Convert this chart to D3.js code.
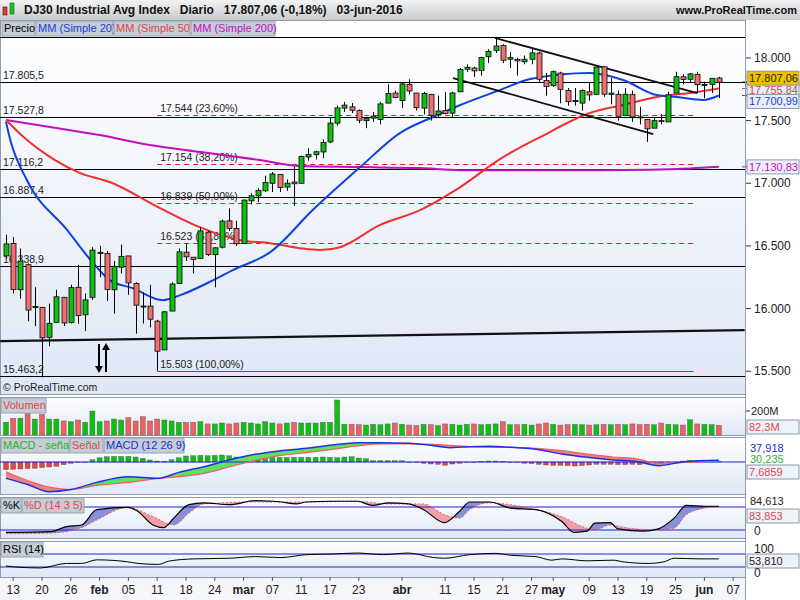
<!DOCTYPE html>
<html><head><meta charset="utf-8">
<script src="https://cdn.jsdelivr.net/npm/d3@7"></script>
<style>body{margin:0;background:#fff}svg{display:block;font-family:"Liberation Sans",Arial,sans-serif}</style>
</head><body><svg id="c" width="800" height="600"></svg>
<script>
const dates=["12","13","14","15","19","20","21","22","25","26","27","28","29","feb01","02","03","04","05","08","09","10","11","12","16","17","18","19","22","23","24","25","26","29","mar01","02","03","04","07","08","09","10","11","14","15","16","17","18","21","22","23","24","28","29","30","31","abr01","04","05","06","07","08","11","12","13","14","15","18","19","20","21","22","25","26","27","28","29","may02","03","04","05","06","09","10","11","12","13","16","17","18","19","20","23","24","25","26","27","31","jun01","02","03"];
const opens=[16420,16520,16150,16350,16010,16010,15770,15890,16090,15890,16170,15950,16090,16440,16440,16150,16330,16420,16200,16020,16020,15900,15670,15980,16200,16450,16410,16400,16610,16430,16490,16700,16640,16520,16860,16900,16940,17000,17070,16970,17010,17000,17210,17230,17250,17330,17480,17600,17610,17580,17500,17520,17510,17640,17720,17660,17790,17720,17600,17710,17550,17580,17560,17730,17910,17920,17900,18010,18060,18100,17990,17990,17970,17990,18040,17820,17780,17880,17740,17660,17640,17730,17710,17930,17710,17710,17540,17710,17530,17510,17440,17500,17490,17720,17850,17830,17870,17780,17790,17840];
const highs=[16590,16570,16480,16360,16170,16010,16040,16150,16090,16190,16350,16120,16490,16500,16460,16380,16510,16420,16210,16130,16190,15910,15980,16210,16480,16520,16410,16650,16620,16490,16710,16800,16700,16870,16920,16960,17060,17090,17070,17030,17130,17220,17280,17260,17350,17520,17620,17650,17640,17590,17520,17570,17650,17790,17740,17800,17830,17720,17730,17710,17700,17730,17730,17920,17950,17930,18010,18070,18167,18110,18050,18000,18020,18080,18050,17880,17900,17890,17760,17760,17750,17800,17930,17930,17840,17740,17760,17740,17610,17510,17520,17550,17730,17890,17870,17880,17890,17810,17840,17850];
const lows=[16400,16120,16080,15900,15860,15451,15700,15890,15860,15880,15880,15820,16070,16250,16060,15960,16280,16110,15800,15880,15850,15503,15670,15980,16200,16380,16280,16400,16420,16170,16480,16620,16500,16520,16830,16850,16930,16930,16930,16940,16820,17000,17180,17190,17200,17320,17460,17570,17560,17480,17440,17490,17470,17640,17680,17600,17710,17580,17550,17500,17530,17550,17520,17730,17890,17850,17860,17960,18040,17960,17920,17860,17950,17950,17800,17700,17770,17640,17620,17620,17580,17660,17710,17690,17630,17500,17540,17490,17470,17330,17440,17470,17490,17720,17790,17800,17720,17680,17720,17680];
const closes=[16516,16151,16379,15988,16016,15766,15882,16094,15885,16167,15944,16069,16466,16449,16153,16337,16417,16205,16027,16014,15915,15660,15974,16196,16453,16413,16392,16620,16431,16485,16698,16640,16517,16866,16900,16943,17007,17074,16965,17001,16996,17213,17230,17252,17326,17481,17602,17624,17583,17503,17516,17536,17634,17717,17685,17793,17737,17603,17716,17542,17577,17556,17721,17908,17926,17897,18004,18053,18096,17982,18003,17977,17990,18041,17830,17773,17891,17750,17651,17660,17740,17705,17928,17711,17720,17535,17711,17529,17526,17435,17500,17492,17706,17851,17828,17873,17787,17789,17838,17807];
const volumes=[106,139,140,195,133,172,133,133,117,111,125,106,200,111,117,133,125,145,117,153,117,133,125,117,106,106,106,111,92,92,100,92,100,106,100,92,111,100,92,100,106,100,100,100,106,106,292,89,89,86,83,89,86,92,100,89,83,78,89,86,78,92,89,83,89,92,86,89,92,111,86,86,89,83,92,100,89,83,86,89,86,83,86,89,86,89,86,92,86,89,86,100,89,86,83,128,92,89,86,82];
const histo=[-46,-44,-42,-40,-38,-34,-30,-26,-16,-8,-2,-2,14,26,32,34,34,34,30,22,12,6,4,14,26,36,38,40,38,40,42,38,30,30,28,30,28,28,28,28,28,28,28,28,30,28,26,30,32,24,20,8,8,8,8,8,0,-2,-8,-12,-14,-20,-12,-8,0,0,4,6,6,4,0,-2,-8,-10,-14,-18,-20,-20,-22,-24,-22,-18,-14,-14,-14,-16,-16,-14,-16,-12,-14,-10,-4,0,6,10,10,8,8,4];
const macd=[[0,-98],[3,-135],[6,-178],[9,-165],[12.6,-122],[17,-88],[21,-98],[24,-62],[27.5,-28],[31,12],[34.6,46],[38,66],[41.7,82],[45.3,102],[48.8,116],[52,116],[56,112],[59.4,98],[61.6,86],[64.4,92],[67.2,94],[70,88],[73.6,76],[77.2,48],[80.7,28],[84.3,12],[87.8,2],[90.6,-22],[94.2,2],[99,10]];
const signal=[[0,-58],[6,-150],[9,-165],[12.6,-140],[17,-122],[21,-100],[24,-88],[27.5,-68],[31,-30],[34.6,10],[38,38],[41.7,56],[45.3,76],[48.8,96],[52,108],[56,108],[59.4,106],[62,98],[64.4,92],[67.2,88],[70,88],[73.6,82],[77.2,68],[80.7,48],[84.3,30],[87.8,18],[90.6,-8],[94.2,-2],[99,6]];
const stochK=[[0,14],[6.3,16],[8.4,29],[10.5,33],[12.6,73],[16.9,79],[18.3,69],[20.4,33],[21.9,26],[23.3,51],[25.4,86],[27.5,91],[31.1,86],[34.6,97],[38.2,93],[40.3,88],[41.7,93],[45.3,95],[48.8,95],[50.9,84],[53.1,91],[55.9,88],[58,73],[60.9,39],[63,69],[64.4,93],[67.2,93],[70.1,77],[73.6,73],[77.2,42],[78.9,14],[80.7,17],[81.8,38],[83.9,39],[85,23],[88.5,17],[90.6,23],[92.8,51],[94.5,84],[97,82],[99,82]];
const stochD=[[0,10],[6.3,12],[10.5,26],[12.6,46],[16.9,79],[20.4,55],[23.3,33],[25.4,64],[27.5,88],[34.6,93],[41.7,93],[48.8,95],[53.1,88],[58,88],[60.9,60],[63,51],[64.4,73],[67.2,91],[70.1,86],[73.6,73],[77.2,55],[80,29],[81.8,20],[83.9,33],[86.4,25],[90.6,20],[92.8,25],[94.5,60],[97,77],[99,82]];
const rsi=[[0,33],[1.3,30],[4.8,27],[8.4,41],[10.5,41],[12.6,52],[16.9,46],[18.3,41],[21.2,38],[22.6,48],[26.1,55],[31.1,57],[34.6,62],[38.2,59],[41.7,68],[45.3,70],[48.8,73],[52.4,68],[55.9,73],[59.4,59],[60.9,57],[64.4,68],[68,72],[70.1,66],[73.6,62],[75.8,51],[77.2,55],[80.7,49],[84.3,51],[85.7,46],[89.2,41],[91.4,46],[92.8,57],[96.3,55],[99,55]];
const ma20=[[0,17490],[0.6,17345],[2.9,17026],[8.5,16626],[12.1,16363],[14.4,16227],[17.6,16163],[21.8,16067],[24.2,16107],[28.8,16227],[31.5,16307],[36.7,16450],[42.6,16786],[49.2,17129],[54.7,17401],[59.3,17529],[63.1,17625],[68.6,17744],[72.8,17832],[81.1,17880],[85.7,17824],[90.4,17704],[93.2,17688],[96.8,17665],[99,17701]];
const ma50=[[0,17505],[2.6,17361],[6.8,17185],[10.3,17081],[14.4,17010],[21.4,16802],[26.9,16650],[32.5,16546],[36.7,16522],[40.8,16482],[43.6,16467],[46.4,16490],[51.9,16666],[57.5,16786],[63.1,16970],[68.6,17193],[74.2,17369],[81.1,17561],[85.7,17625],[90.4,17689],[95,17720],[99,17756]];
const ma200=[[0,17505],[6.1,17449],[13,17385],[20,17305],[27,17249],[35.3,17185],[40.8,17137],[49.2,17129],[57.5,17121],[63,17105],[71,17105],[82.5,17105],[89.4,17108],[95,17118],[99,17131]];
const hLevels=[18167.6,17805.5,17527.8,17116.2,16887.4,16338.9,15463.2];
const hLabels=["","17.805,5","17.527,8","17.116,2","16.887,4","16.338,9","15.463,2"];
const fibLevels=[17544,17154,16839,16523,15503];
const fibLabels=["17.544 (23,60%)","17.154 (38,20%)","16.839 (50,00%)","16.523 (61,80%)","15.503 (100,00%)"];
const trendMain=[[-0.8,15740],[102.6,15828]];
const chanUp=[[67.9,18160],[96,17720]];
const chanLow=[[62.1,17840],[89.9,17393]];
const priceTicks=[18000,17500,17000,16500,16000,15500];
const xLabels=[[1,"13"],[5,"20"],[9,"26"],[13,"feb"],[17,"05"],[21,"11"],[25,"18"],[29,"24"],[33,"mar"],[37,"07"],[41,"11"],[45,"17"],[49,"23"],[55,"abr"],[61,"11"],[65,"15"],[69,"21"],[73,"27"],[76,"may"],[81,"09"],[85,"13"],[89,"19"],[93,"25"],[97,"jun"],[101,"07"]];

const svg=d3.select("#c");
const W=745;
const defs=svg.append("defs");
const g1=defs.append("linearGradient").attr("id","pg").attr("x1",0).attr("x2",0).attr("y1",0).attr("y2",1);
g1.append("stop").attr("offset","0").attr("stop-color","#ffffff");
g1.append("stop").attr("offset","1").attr("stop-color","#dfe7f6");
const hg=defs.append("linearGradient").attr("id","hg").attr("x1",0).attr("x2",0).attr("y1",0).attr("y2",1);
hg.append("stop").attr("offset","0").attr("stop-color","#f2f2f2");
hg.append("stop").attr("offset","1").attr("stop-color","#c8ccd0");

const x=d3.scaleLinear().domain([0,99]).range([6,718.8]);
const y=d3.scaleLinear().domain([15500,18000]).range([371.2,58]);

const panels=[[20,394],[397,435],[437,494],[497,538],[541,577]];
panels.forEach(p=>svg.append("rect").attr("x",0.5).attr("y",p[0]+0.5).attr("width",W).attr("height",p[1]-p[0]).attr("fill","url(#pg)").attr("stroke","#8e9cab"));
svg.append("rect").attr("x",0).attr("y",578).attr("width",W).attr("height",22).attr("fill","#f4f6fa");
svg.append("rect").attr("x",0).attr("y",0).attr("width",800).attr("height",20).attr("fill","url(#hg)");
svg.append("rect").attr("x",3).attr("y",7).attr("width",4).attr("height",8).attr("fill","#e04040").attr("stroke","#600").attr("stroke-width",0.6);
svg.append("rect").attr("x",10).attr("y",3).attr("width",4).attr("height",11).attr("fill","#20c020").attr("stroke","#060").attr("stroke-width",0.6);
svg.append("text").attr("x",24).attr("y",14).attr("font-size",12).attr("font-weight","bold").attr("fill","#111").attr("xml:space","preserve").text("DJ30 Industrial Avg Index   Diario   17.807,06 (-0,18%)   03-jun-2016");
svg.append("text").attr("x",797).attr("y",14).attr("text-anchor","end").attr("font-size",11).attr("font-weight","bold").attr("fill","#111").text("www.ProRealTime.com");

const main=svg.append("g");
main.append("clipPath").attr("id","mc").append("rect").attr("x",0).attr("y",21).attr("width",W).attr("height",372);
const mg=main.append("g").attr("clip-path","url(#mc)");
hLevels.forEach((v,i)=>{
  mg.append("line").attr("x1",0).attr("x2",W).attr("y1",Math.round(y(v))+0.5).attr("y2",Math.round(y(v))+0.5).attr("stroke","#000");
  if(hLabels[i]) mg.append("text").attr("x",3).attr("y",Math.round(y(v))-3).attr("font-size",10.5).attr("fill","#222").text(hLabels[i]);
});
fibLevels.forEach((v,i)=>{
  const last=i===fibLevels.length-1;
  mg.append("line").attr("x1",x(21)).attr("x2",x(95.5)).attr("y1",Math.round(y(v))+0.5).attr("y2",Math.round(y(v))+0.5).attr("stroke","#e02020").attr("stroke-dasharray",last?null:"5,4");
  mg.append("text").attr("x",x(21)+3).attr("y",Math.round(y(v))-3).attr("font-size",10.5).attr("fill","#222").text(fibLabels[i]);
});
const ln=d3.line().x(d=>x(d[0])).y(d=>y(d[1])).curve(d3.curveMonotoneX);
mg.append("path").attr("d",ln(ma200)).attr("fill","none").attr("stroke","#c010c0").attr("stroke-width",2);
mg.append("path").attr("d",ln(ma50)).attr("fill","none").attr("stroke","#f03030").attr("stroke-width",2);
mg.append("path").attr("d",ln(ma20)).attr("fill","none").attr("stroke","#1040e0").attr("stroke-width",2);
const sl=d3.line().x(d=>x(d[0])).y(d=>y(d[1]));
mg.append("path").attr("d",sl(trendMain)).attr("stroke","#111").attr("stroke-width",2.2).attr("fill","none");
mg.append("path").attr("d",sl(chanUp)).attr("stroke","#111").attr("stroke-width",1.8).attr("fill","none");
mg.append("path").attr("d",sl(chanLow)).attr("stroke","#111").attr("stroke-width",1.8).attr("fill","none");
mg.append("line").attr("x1",99).attr("x2",99).attr("y1",344).attr("y2",368).attr("stroke","#000").attr("stroke-width",2);
mg.append("path").attr("d","M95,366 L103,366 L99,373 Z").attr("fill","#000");
mg.append("line").attr("x1",106).attr("x2",106).attr("y1",348).attr("y2",372).attr("stroke","#000").attr("stroke-width",2);
mg.append("path").attr("d","M102,350 L110,350 L106,343 Z").attr("fill","#000");
const cg=mg.append("g");
closes.forEach((c,i)=>{
  const o=opens[i],up=c>=o,cx=Math.round(x(i))+0.5;
  cg.append("line").attr("x1",cx).attr("x2",cx).attr("y1",y(highs[i])).attr("y2",y(lows[i])).attr("stroke","#000");
  const t=y(Math.max(o,c)),b=y(Math.min(o,c));
  cg.append("rect").attr("x",cx-2.5).attr("y",t).attr("width",5).attr("height",Math.max(1,b-t)).attr("fill",up?"#10c010":"#f07070").attr("stroke","#000").attr("stroke-width",0.8);
});
svg.append("text").attr("x",3).attr("y",391).attr("font-size",10.5).attr("fill","#222").text("© ProRealTime.com");
const leg=[["Precio","#000",2,33],["MM (Simple 20)","#2040e0",36,77],["MM (Simple 50)","#e04848",114,76],["MM (Simple 200)","#c010c0",191,84]];
leg.forEach(l=>{svg.append("rect").attr("x",l[2]).attr("y",21).attr("width",l[3]).attr("height",15).attr("fill","#c4ccd6").attr("stroke","#98a4b0");
svg.append("text").attr("x",l[2]+2).attr("y",32).attr("font-size",11).attr("fill",l[1]).text(l[0]);});
priceTicks.forEach(v=>{svg.append("line").attr("x1",W).attr("x2",W+6).attr("y1",y(v)).attr("y2",y(v)).attr("stroke","#333");
svg.append("text").attr("x",W+9).attr("y",y(v)+4).attr("font-size",12).attr("fill","#222").text(d3.format(",.3f")(v/1000).replace(",","."));});
function vbox(yc,txt,fill,col,h){svg.append("rect").attr("x",W+2).attr("y",yc-(h||7)).attr("width",52).attr("height",(h||7)*2).attr("fill",fill).attr("stroke","#8899aa");
svg.append("text").attr("x",W+4).attr("y",yc+4).attr("font-size",11).attr("fill",col).text(txt);}
vbox(y(17755.84)+1,"17.755,84","#e8eef8","#e04848");
vbox(y(17700.99)+6,"17.700,99","#e8eef8","#2040e0");
vbox(y(17807.06)-4,"17.807,06","#f0c000","#222");
vbox(y(17130.83),"17.130,83","#f0f0ff","#c010c0");
[17807.06,17755.84,17700.99,17130.83].forEach((v,i)=>svg.append("line").attr("x1",W-3).attr("x2",W+2).attr("y1",y(v)).attr("y2",y(v)).attr("stroke",["#000","#e04848","#2040e0","#c010c0"][i]));

const vy=d3.scaleLinear().domain([0,200]).range([435,411]);
volumes.forEach((v,i)=>svg.append("rect").attr("x",x(i)-2.5).attr("y",vy(v)).attr("width",5).attr("height",435-vy(v)).attr("fill",closes[i]>=opens[i]?"#10c010":"#f06060").attr("stroke","#555").attr("stroke-width",0.4));
function lbl(xx,yy,txt,col,w){svg.append("rect").attr("x",xx).attr("y",yy).attr("width",w).attr("height",15).attr("fill","#c4ccd6").attr("stroke","#98a4b0");
svg.append("text").attr("x",xx+2).attr("y",yy+11).attr("font-size",11).attr("fill",col).text(txt);}
lbl(1,398,"Volumen","#e04848",45);
svg.append("line").attr("x1",W).attr("x2",W+5).attr("y1",411).attr("y2",411).attr("stroke","#333");
svg.append("text").attr("x",W+6).attr("y",415).attr("font-size",11).attr("fill","#222").text("200M");
vbox(427,"82,3M","#eef2fa","#e04848",7);

const my=d3.scaleLinear().domain([0,100]).range([462,445.3]);
const ml=d3.line().x(d=>x(d[0])).y(d=>my(d[1])).curve(d3.curveMonotoneX);
const mA=(arr,top)=>d3.area().x(d=>x(d[0])).y0(top).y1(d=>my(d[1])).curve(d3.curveMonotoneX)(arr);
defs.append("clipPath").attr("id","aboveSig").append("path").attr("d",mA(signal,437));
defs.append("clipPath").attr("id","aboveMacd").append("path").attr("d",mA(macd,437));
histo.forEach((v,i)=>svg.append("rect").attr("x",x(i)-2.5).attr("y",Math.min(my(v),my(0))).attr("width",5).attr("height",Math.max(0.5,Math.abs(my(v)-my(0)))).attr("fill",v>=0?"#10c010":"#e04848").attr("stroke","#444").attr("stroke-width",0.3));
svg.append("path").attr("d",mA(macd,494)).attr("fill","#60e060").attr("clip-path","url(#aboveSig)");
svg.append("path").attr("d",mA(signal,494)).attr("fill","#f08080").attr("clip-path","url(#aboveMacd)");
svg.append("line").attr("x1",0).attr("x2",W).attr("y1",my(0)).attr("y2",my(0)).attr("stroke","#2020d0");
svg.append("path").attr("d",ml(signal)).attr("fill","none").attr("stroke","#f06060").attr("stroke-width",1.2);
svg.append("path").attr("d",ml(macd)).attr("fill","none").attr("stroke","#2030e0").attr("stroke-width",1.5);
lbl(1,438,"MACD - señal","#30b030",68);lbl(70,438,"Señal","#e04848",33);lbl(104,438,"MACD (12 26 9)","#2030d0",80);
svg.append("text").attr("x",W+5).attr("y",452).attr("font-size",11).attr("fill","#2030d0").text("37,918");
svg.append("text").attr("x",W+5).attr("y",463).attr("font-size",11).attr("fill","#30b030").text("30,235");
vbox(472,"7,6859","#eef2fa","#e04848",7);

const sy=d3.scaleLinear().domain([20,80]).range([530,507]);
const sa=(arr,base)=>d3.area().x(d=>x(d[0])).y0(base).y1(d=>sy(d[1])).curve(d3.curveMonotoneX)(arr);
defs.append("clipPath").attr("id","aboveD").append("path").attr("d",sa(stochD,497));
defs.append("clipPath").attr("id","aboveK").append("path").attr("d",sa(stochK,497));
svg.append("path").attr("d",sa(stochK,538)).attr("fill","#8890d8").attr("clip-path","url(#aboveD)");
svg.append("path").attr("d",sa(stochD,538)).attr("fill","#eea0a8").attr("clip-path","url(#aboveK)");
[80,20].forEach(v=>svg.append("line").attr("x1",0).attr("x2",W).attr("y1",sy(v)).attr("y2",sy(v)).attr("stroke","#2020d0"));
const sl2=d3.line().x(d=>x(d[0])).y(d=>sy(d[1])).curve(d3.curveMonotoneX);
svg.append("path").attr("d",sl2(stochD)).attr("fill","none").attr("stroke","#f06060").attr("stroke-dasharray","2,2");
svg.append("path").attr("d",sl2(stochK)).attr("fill","none").attr("stroke","#000").attr("stroke-width",1.2);
lbl(1,498,"%K","#000",20);lbl(22,498,"%D (14 3 5)","#e04848",62);
svg.append("text").attr("x",W+5).attr("y",505).attr("font-size",11).attr("fill","#222").text("84,613");
vbox(516,"83,853","#eef2fa","#e04848",7);
svg.append("text").attr("x",W+9).attr("y",535).attr("font-size",12).attr("fill","#222").text("0");

const ry=d3.scaleLinear().domain([30,70]).range([567,554]);
[70,30].forEach(v=>svg.append("line").attr("x1",0).attr("x2",W).attr("y1",ry(v)).attr("y2",ry(v)).attr("stroke","#2020d0"));
svg.append("path").attr("d",d3.line().x(d=>x(d[0])).y(d=>ry(d[1])).curve(d3.curveMonotoneX)(rsi)).attr("fill","none").attr("stroke","#000");
lbl(1,542,"RSI (14)","#000",42);
svg.append("text").attr("x",W+9).attr("y",553).attr("font-size",12).attr("fill","#222").text("100");
vbox(561,"53,810","#eef2fa","#222",7);
svg.append("text").attr("x",W+9).attr("y",577).attr("font-size",12).attr("fill","#222").text("0");

xLabels.forEach(l=>{const xx=x(l[0]);
svg.append("line").attr("x1",xx).attr("x2",xx).attr("y1",577).attr("y2",581).attr("stroke","#555");
svg.append("text").attr("x",xx).attr("y",594).attr("text-anchor","middle").attr("font-size",12).attr("font-weight",isNaN(+l[1])?"bold":"normal").attr("fill","#222").text(l[1]);});
svg.append("line").attr("x1",W+0.5).attr("x2",W+0.5).attr("y1",20).attr("y2",600).attr("stroke","#8e9cab");
</script></body></html>
